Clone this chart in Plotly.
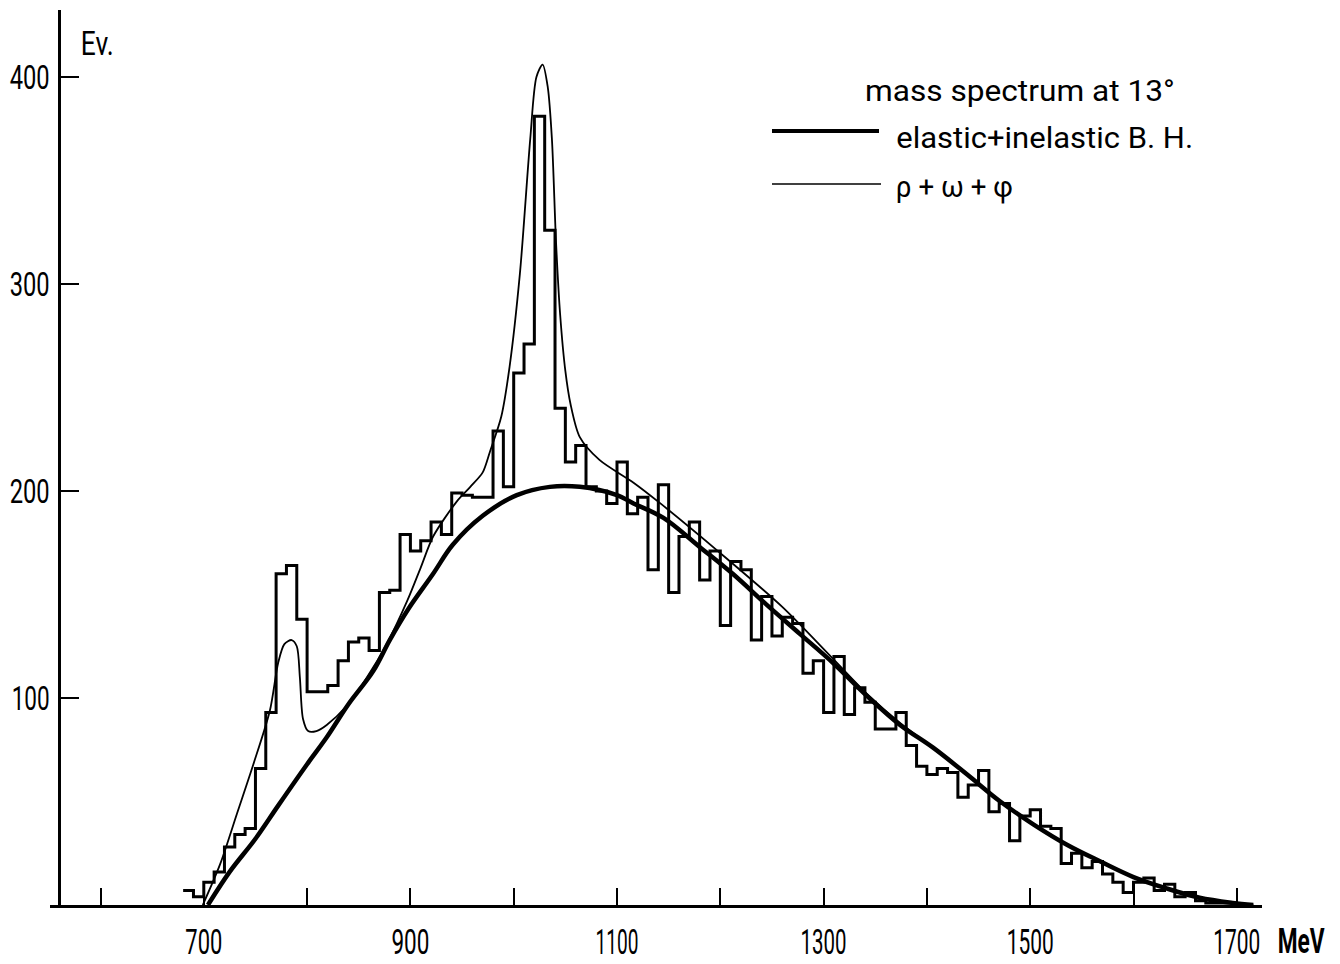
import json
import plotly.graph_objects as go

# ---- data -------------------------------------------------------------
# event histogram, 10 MeV bins starting at 680 MeV
bin_start = 680
bin_width = 10
events = [
    7, 4, 11, 16, 28, 34, 37, 66, 93, 160,          # 680-770
    164, 138, 103, 103, 106, 118, 127, 129, 123, 151,  # 780-870
    152, 179, 171, 176, 185, 179, 199, 198, 197, 197,  # 880-970
    229, 202, 257, 271, 381, 326, 240, 214, 222, 202,  # 980-1070
    200, 194, 214, 189, 197, 162, 203, 151, 178, 185,  # 1080-1170
    157, 171, 135, 166, 162, 128, 149, 130, 139, 136,  # 1180-1270
    112, 118, 93, 120, 92, 105, 98, 85, 85, 93,        # 1280-1370
    77, 67, 63, 66, 64, 52, 58, 65, 45, 49,            # 1380-1470
    31, 43, 46, 38, 37, 20, 25, 18, 21, 15,            # 1480-1570
    11, 6, 11, 13, 7, 10, 4, 6, 2, 1,                  # 1580-1670
    1, 1,                                              # 1680-1690
]

# elastic + inelastic Bethe-Heitler curve
bh_mass = [704, 725, 750, 772, 800, 819, 840, 864, 880, 898, 922, 941, 970,
           1003, 1035, 1064, 1100, 1116, 1145, 1180, 1212, 1245, 1277, 1309,
           1342, 1374, 1406, 1439, 1471, 1503, 1536, 1568, 1600, 1632, 1664,
           1696, 1716]
bh_events = [0, 16, 32, 48, 68, 81, 97, 113, 128, 143, 160, 174, 188,
             198, 202, 202, 198, 194, 187, 173, 160, 145, 131, 117,
             101, 87, 76, 63, 50, 39, 29, 21, 13.5, 8, 3.5,
             1, 0]

# rho + omega + phi curve (on top of the Bethe-Heitler background)
vm_mass = [699, 716, 732, 748, 764, 772, 778, 785, 790, 793, 796, 801, 809,
           819, 838, 858, 877, 897, 910, 922, 945, 958, 970, 977, 988, 996,
           1006, 1016, 1022, 1028, 1033, 1037, 1041, 1045, 1050, 1055, 1064,
           1083, 1116, 1142, 1200, 1260, 1309, 1342, 1374, 1406, 1439, 1471,
           1503, 1536, 1568, 1600, 1632, 1664, 1696, 1716]
vm_events = [0, 20, 44, 68, 94, 117, 126, 128, 125, 110, 90, 84, 84,
             87, 96, 110, 126, 147, 163, 178, 195, 202, 209, 219, 236, 260,
             305, 370, 400, 406, 395, 370, 320, 285, 258, 242, 226,
             215, 204, 194, 170, 144, 119, 102, 88, 76, 63, 50,
             39, 29, 21, 13.5, 8, 3.5, 1, 0]

x_tick_vals = [600, 700, 800, 900, 1000, 1100, 1200, 1300, 1400, 1500, 1600, 1700]
x_tick_text = ["", "700", "", "900", "", "1100", "", "1300", "", "1500", "", "1700"]
y_tick_vals = [100, 200, 300, 400]
y_tick_text = ["100", "200", "300", "400"]

title_text = "mass spectrum at 13°"
bh_label = "elastic+inelastic B. H."
vm_label = "ρ + ω + φ"
y_unit = "Ev."
x_unit = "MeV"

# ---- page geometry ------------------------------------------------------
W, H = 1340, 964
L, R, T, B = 50, 1262, 10, 905          # plot area in page pixels
PX_PER_MEV = 1.033
PX_AT_600 = 100.5
PX_PER_EV = 2.07


def mev_at(px):
    return 600 + (px - PX_AT_600) / PX_PER_MEV


def paper_x(px):
    return (px - L) / (R - L)


def paper_y(py):
    return (B - py) / (B - T)


x_range = [mev_at(L), mev_at(R)]
y_range = [0, (B - T) / PX_PER_EV]

FONT = "Roboto, 'DejaVu Sans', sans-serif"

# narrow lettering: rendered width (px) of each label
label_widths = {
    "100": 38, "200": 40, "300": 40, "400": 40,
    "700": 37, "900": 38, "1100": 43, "1300": 46, "1500": 47, "1700": 47,
    title_text: 310, bh_label: 297, vm_label: 117,
    y_unit: 33, x_unit: 47,
}

edges = [bin_start + i * bin_width for i in range(len(events) + 1)]
hist_x = edges
hist_y = events + [events[-1]]

fig = go.Figure()
fig.add_trace(go.Scatter(
    x=hist_x, y=hist_y, mode="lines", line_shape="hv",
    line=dict(color="black", width=3), hoverinfo="skip", showlegend=False))
fig.add_trace(go.Scatter(
    x=vm_mass, y=vm_events, mode="lines", line_shape="spline",
    line=dict(color="black", width=1.8, smoothing=0.8),
    hoverinfo="skip", showlegend=False))
fig.add_trace(go.Scatter(
    x=bh_mass, y=bh_events, mode="lines", line_shape="spline",
    line=dict(color="black", width=4.5, smoothing=1.0),
    hoverinfo="skip", showlegend=False))

fig.update_layout(
    width=W, height=H,
    margin=dict(l=L, r=W - R, t=T, b=H - B, pad=0, autoexpand=False),
    paper_bgcolor="white", plot_bgcolor="white",
    font=dict(family=FONT, color="black"),
    xaxis=dict(
        range=x_range, showgrid=False, zeroline=False, automargin=False,
        showline=True, linecolor="black", linewidth=2.5,
        ticks="inside", ticklen=17, tickwidth=2, tickcolor="black",
        tickmode="array", tickvals=x_tick_vals, ticktext=x_tick_text,
        tickfont=dict(family=FONT, size=35), ticklabelstandoff=4,
    ),
    yaxis=dict(
        range=y_range, showgrid=False, zeroline=False, automargin=False,
        anchor="free", position=paper_x(59),
        showline=True, linecolor="black", linewidth=2.5,
        ticks="inside", ticklen=18, tickwidth=2, tickcolor="black",
        tickmode="array", tickvals=y_tick_vals, ticktext=y_tick_text,
        tickfont=dict(family=FONT, size=33), ticklabelstandoff=2,
    ),
)

# legend key lines
fig.add_shape(type="line", xref="paper", yref="paper",
              x0=paper_x(772), x1=paper_x(879), y0=paper_y(131), y1=paper_y(131),
              line=dict(color="black", width=4))
fig.add_shape(type="line", xref="paper", yref="paper",
              x0=paper_x(772), x1=paper_x(881), y0=paper_y(184), y1=paper_y(184),
              line=dict(color="black", width=1.6))

annotations = [
    dict(text=title_text, cx=1020, cy=90, size=30, bold=False),
    dict(text=bh_label, cx=1044, cy=138, size=30, bold=False),
    dict(text=vm_label, cx=954, cy=187, size=30, bold=False),
    dict(text=y_unit, cx=97, cy=43, size=34, bold=False),
    dict(text=x_unit, cx=1301, cy=941, size=35, bold=True),
]
for a in annotations:
    label = f"<b>{a['text']}</b>" if a["bold"] else a["text"]
    fig.add_annotation(
        text=label, xref="paper", yref="paper",
        x=paper_x(a["cx"]), y=paper_y(a["cy"]),
        xanchor="center", yanchor="middle", showarrow=False,
        borderpad=0,
        font=dict(family=FONT, size=a["size"], color="black"))

# compress the lettering horizontally to the narrow widths above,
# scaling each label about its own anchor point
squeeze_js = """
var gd = document.getElementById('{plot_id}');
var widths = %s;
gd.querySelectorAll('text').forEach(function (t) {
  var key = (t.textContent || '').replace(/\\s+/g, ' ').trim();
  if (!widths.hasOwnProperty(key)) return;
  var bb = t.getBBox();
  if (!bb.width) return;
  var sx = widths[key] / bb.width;
  var anchor = t.getAttribute('text-anchor') || window.getComputedStyle(t).textAnchor;
  var ax = bb.x + bb.width / 2;
  if (anchor === 'end') ax = bb.x + bb.width;
  else if (anchor === 'start') ax = bb.x;
  var tr = t.getAttribute('transform') || '';
  t.setAttribute('transform', tr + ' translate(' + ax + ',0) scale(' + sx + ',1) translate(' + (-ax) + ',0)');
});
""" % json.dumps(label_widths, ensure_ascii=False)

fig.write_html("out.html", post_script=squeeze_js)
